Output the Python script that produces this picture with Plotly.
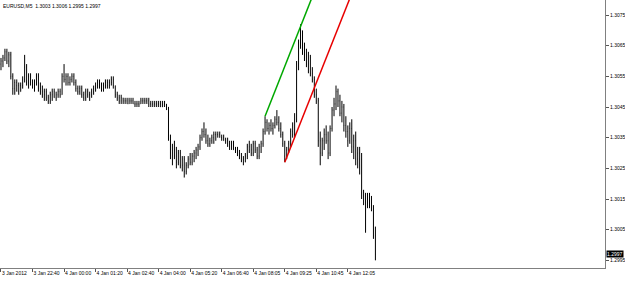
import plotly.graph_objects as go

# EURUSD M5 bars
open_ = [1.3059,1.3060,1.3061,1.3063,1.3060,1.3062,1.3055,1.3051,1.3053,1.3052,
         1.3050,1.3052,1.3054,1.3058,1.3053,1.3055,1.3053,1.3052,1.3053,1.3055,
         1.3051,1.3050,1.3049,1.3050,1.3048,1.3047,1.3049,1.3050,1.3048,1.3049,
         1.3050,1.3049,1.3055,1.3054,1.3055,1.3053,1.3054,1.3055,1.3053,1.3051,
         1.3050,1.3051,1.3049,1.3048,1.3050,1.3049,1.3049,1.3050,1.3051,1.3052,
         1.3053,1.3052,1.3051,1.3052,1.3053,1.3052,1.3053,1.3054,1.3052,1.3049,
         1.3048,1.3047,1.3048,1.3047,1.3047,1.3046,1.3047,1.3047,1.3046,1.3046,
         1.3046,1.3046,1.3047,1.3047,1.3047,1.3047,1.3046,1.3046,1.3046,1.3046,
         1.3046,1.3046,1.3045,1.3046,1.3046,1.3045,1.3035,1.3030,1.3031,1.3029,
         1.3027,1.3030,1.3026,1.3028,1.3024,1.3026,1.3028,1.3027,1.3029,1.3030,
         1.3031,1.3032,1.3035,1.3037,1.3036,1.3034,1.3033,1.3034,1.3035,1.3036,
         1.3036,1.3036,1.3035,1.3035,1.3034,1.3034,1.3033,1.3032,1.3033,1.3031,
         1.3031,1.3030,1.3029,1.3028,1.3027,1.3029,1.3032,1.3031,1.3030,1.3033,
         1.3031,1.3029,1.3032,1.3033,1.3037,1.3040,1.3038,1.3039,1.3038,1.3039,
         1.3041,1.3040,1.3038,1.3036,1.3033,1.3029,1.3031,1.3033,1.3037,1.3036,
         1.3041,1.3059,1.3066,1.3069,1.3064,1.3062,1.3059,1.3061,1.3056,1.3054,
         1.3049,1.3047,1.3034,1.3030,1.3034,1.3036,1.3034,1.3030,1.3038,1.3044,
         1.3046,1.3050,1.3047,1.3043,1.3045,1.3039,1.3037,1.3034,1.3038,1.3032,
         1.3034,1.3028,1.3030,1.3028,1.3017,1.3016,1.3014,1.3016,1.3013,1.3012,1.3003]
high = [1.3061,1.3062,1.3064,1.3064,1.3063,1.3063,1.3056,1.3054,1.3054,1.3053,
        1.3053,1.3055,1.3062,1.3059,1.3056,1.3056,1.3054,1.3054,1.3056,1.3056,
        1.3053,1.3052,1.3051,1.3051,1.3049,1.3050,1.3051,1.3051,1.3050,1.3051,
        1.3051,1.3056,1.3059,1.3056,1.3056,1.3055,1.3056,1.3056,1.3054,1.3052,
        1.3052,1.3052,1.3050,1.3051,1.3051,1.3050,1.3051,1.3052,1.3053,1.3054,
        1.3054,1.3053,1.3053,1.3054,1.3054,1.3054,1.3055,1.3055,1.3052,1.3050,
        1.3049,1.3049,1.3048,1.3048,1.3048,1.3048,1.3048,1.3048,1.3047,1.3047,
        1.3047,1.3048,1.3048,1.3048,1.3048,1.3048,1.3047,1.3047,1.3047,1.3047,
        1.3047,1.3047,1.3047,1.3047,1.3046,1.3045,1.3036,1.3033,1.3034,1.3032,
        1.3031,1.3031,1.3029,1.3029,1.3027,1.3029,1.3030,1.3030,1.3031,1.3032,
        1.3033,1.3036,1.3038,1.3040,1.3038,1.3036,1.3035,1.3036,1.3037,1.3037,
        1.3037,1.3037,1.3036,1.3036,1.3035,1.3035,1.3034,1.3034,1.3034,1.3032,
        1.3032,1.3031,1.3030,1.3029,1.3030,1.3033,1.3034,1.3033,1.3034,1.3034,
        1.3032,1.3033,1.3034,1.3038,1.3042,1.3041,1.3040,1.3041,1.3040,1.3042,
        1.3044,1.3042,1.3040,1.3037,1.3034,1.3032,1.3034,1.3038,1.3040,1.3043,
        1.3060,1.3067,1.3072,1.3070,1.3066,1.3064,1.3063,1.3062,1.3058,1.3055,
        1.3051,1.3048,1.3037,1.3035,1.3038,1.3039,1.3037,1.3039,1.3045,1.3048,
        1.3052,1.3051,1.3049,1.3047,1.3046,1.3042,1.3039,1.3040,1.3041,1.3036,
        1.3037,1.3032,1.3032,1.3030,1.3018,1.3017,1.3017,1.3017,1.3016,1.3013,1.3006]
low = [1.3057,1.3058,1.3060,1.3059,1.3058,1.3054,1.3049,1.3049,1.3050,1.3049,
       1.3050,1.3051,1.3053,1.3052,1.3051,1.3052,1.3051,1.3050,1.3052,1.3050,
       1.3049,1.3048,1.3047,1.3047,1.3046,1.3046,1.3047,1.3048,1.3047,1.3048,
       1.3048,1.3049,1.3053,1.3052,1.3052,1.3052,1.3053,1.3052,1.3050,1.3049,
       1.3049,1.3048,1.3047,1.3047,1.3048,1.3047,1.3048,1.3049,1.3050,1.3051,
       1.3051,1.3050,1.3050,1.3051,1.3051,1.3051,1.3052,1.3051,1.3048,1.3047,
       1.3046,1.3046,1.3046,1.3046,1.3046,1.3046,1.3046,1.3046,1.3045,1.3045,
       1.3045,1.3046,1.3046,1.3046,1.3046,1.3045,1.3045,1.3045,1.3045,1.3045,
       1.3045,1.3045,1.3045,1.3045,1.3044,1.3034,1.3028,1.3026,1.3028,1.3025,
       1.3026,1.3025,1.3024,1.3022,1.3023,1.3025,1.3026,1.3026,1.3027,1.3028,
       1.3029,1.3031,1.3034,1.3035,1.3033,1.3032,1.3032,1.3033,1.3033,1.3034,
       1.3035,1.3035,1.3034,1.3034,1.3033,1.3032,1.3031,1.3031,1.3031,1.3030,
       1.3029,1.3028,1.3027,1.3026,1.3027,1.3028,1.3030,1.3029,1.3029,1.3030,
       1.3028,1.3028,1.3030,1.3032,1.3036,1.3037,1.3036,1.3037,1.3036,1.3038,
       1.3039,1.3037,1.3035,1.3032,1.3027,1.3028,1.3030,1.3032,1.3035,1.3035,
       1.3040,1.3057,1.3064,1.3062,1.3060,1.3058,1.3056,1.3055,1.3053,1.3048,
       1.3046,1.3032,1.3026,1.3029,1.3031,1.3033,1.3028,1.3029,1.3037,1.3042,
       1.3044,1.3045,1.3042,1.3040,1.3037,1.3035,1.3032,1.3033,1.3030,1.3028,
       1.3026,1.3025,1.3023,1.3015,1.3013,1.3004,1.3012,1.3012,1.3011,1.3002,1.2995]
close = [1.3060,1.3061,1.3063,1.3060,1.3062,1.3055,1.3051,1.3053,1.3052,1.3050,
         1.3052,1.3054,1.3058,1.3053,1.3055,1.3053,1.3052,1.3053,1.3055,1.3051,
         1.3050,1.3049,1.3050,1.3048,1.3047,1.3049,1.3050,1.3048,1.3049,1.3050,
         1.3049,1.3055,1.3054,1.3055,1.3053,1.3054,1.3055,1.3053,1.3051,1.3050,
         1.3051,1.3049,1.3048,1.3050,1.3049,1.3049,1.3050,1.3051,1.3052,1.3053,
         1.3052,1.3051,1.3052,1.3053,1.3052,1.3053,1.3054,1.3052,1.3049,1.3048,
         1.3047,1.3048,1.3047,1.3047,1.3046,1.3047,1.3047,1.3046,1.3046,1.3046,
         1.3046,1.3047,1.3047,1.3047,1.3047,1.3046,1.3046,1.3046,1.3046,1.3046,
         1.3046,1.3045,1.3046,1.3046,1.3045,1.3035,1.3030,1.3031,1.3029,1.3027,
         1.3030,1.3026,1.3028,1.3024,1.3026,1.3028,1.3027,1.3029,1.3030,1.3031,
         1.3032,1.3035,1.3037,1.3036,1.3034,1.3033,1.3034,1.3035,1.3036,1.3036,
         1.3036,1.3035,1.3035,1.3034,1.3034,1.3033,1.3032,1.3033,1.3031,1.3031,
         1.3030,1.3029,1.3028,1.3027,1.3029,1.3032,1.3031,1.3030,1.3033,1.3031,
         1.3029,1.3032,1.3033,1.3037,1.3040,1.3038,1.3039,1.3038,1.3039,1.3041,
         1.3040,1.3038,1.3036,1.3033,1.3029,1.3031,1.3033,1.3037,1.3036,1.3041,
         1.3059,1.3066,1.3069,1.3064,1.3062,1.3059,1.3061,1.3056,1.3054,1.3049,
         1.3047,1.3034,1.3030,1.3034,1.3036,1.3034,1.3030,1.3038,1.3044,1.3046,
         1.3050,1.3047,1.3043,1.3045,1.3039,1.3037,1.3034,1.3038,1.3032,1.3034,
         1.3028,1.3030,1.3028,1.3017,1.3016,1.3014,1.3016,1.3013,1.3012,1.3003,1.2997]

tick_pos = [0, 16, 32, 48, 64, 80, 96, 112, 128, 144, 160, 176]
tick_text = ["3 Jan 2012", "3 Jan 22:40", "4 Jan 00:00", "4 Jan 01:20",
             "4 Jan 02:40", "4 Jan 04:00", "4 Jan 05:20", "4 Jan 06:40",
             "4 Jan 08:05", "4 Jan 09:25", "4 Jan 10:45", "4 Jan 12:05"]
price_ticks = [1.2995, 1.3005, 1.3015, 1.3025, 1.3035, 1.3045, 1.3055, 1.3065, 1.3075]

green_x = [134, 158]
green_y = [1.3042, 1.3081]
red_x = [144, 178]
red_y = [1.3027, 1.3082]

title_text = "EURUSD,M5  1.3003 1.3006 1.2995 1.2997"
last_price = close[-1]

x = list(range(len(close)))
FONT = "Liberation Sans"

fig = go.Figure()
fig.add_trace(go.Ohlc(
    x=x, open=open_, high=high, low=low, close=close,
    increasing=dict(line=dict(color="black", width=1)),
    decreasing=dict(line=dict(color="black", width=1)),
    tickwidth=0.12, hoverinfo="skip", showlegend=False))
fig.add_trace(go.Scatter(x=green_x, y=green_y, mode="lines",
                         line=dict(color="#00a800", width=1.5), showlegend=False))
fig.add_trace(go.Scatter(x=red_x, y=red_y, mode="lines",
                         line=dict(color="#e80000", width=1.5), showlegend=False))

fig.add_annotation(x=0, y=1, xref="paper", yref="paper", xanchor="left", yanchor="top",
                   text=title_text, showarrow=False, xshift=1, yshift=-1,
                   font=dict(family=FONT, size=5, color="black"))
fig.add_annotation(x=1, y=last_price, xref="paper", yref="y", xanchor="left", yanchor="middle",
                   text="%.4f" % last_price, showarrow=False, xshift=1, bgcolor="black",
                   borderpad=0, font=dict(family=FONT, size=5, color="white"))

fig.update_layout(
    width=625, height=285,
    margin=dict(l=0, r=20, t=0, b=17, autoexpand=False),
    paper_bgcolor="white", plot_bgcolor="white",
    font=dict(family=FONT, size=5, color="black"),
    xaxis=dict(range=[-0.5, 306.5], rangeslider=dict(visible=False),
               tickmode="array", tickvals=tick_pos, ticktext=tick_text,
               tickangle=0, automargin=False,
               ticks="outside", ticklen=3, tickcolor="#555555",
               ticklabelposition="outside right",
               showline=True, linecolor="#808080", linewidth=1,
               showgrid=False, zeroline=False),
    yaxis=dict(range=[1.29925, 1.30799], side="right", automargin=False,
               tickmode="array", tickvals=price_ticks,
               ticktext=["%.4f" % v for v in price_ticks],
               ticks="outside", ticklen=3, tickcolor="#555555",
               showline=True, linecolor="#808080", linewidth=1,
               showgrid=False, zeroline=False),
)

fig.write_html("out.html")
